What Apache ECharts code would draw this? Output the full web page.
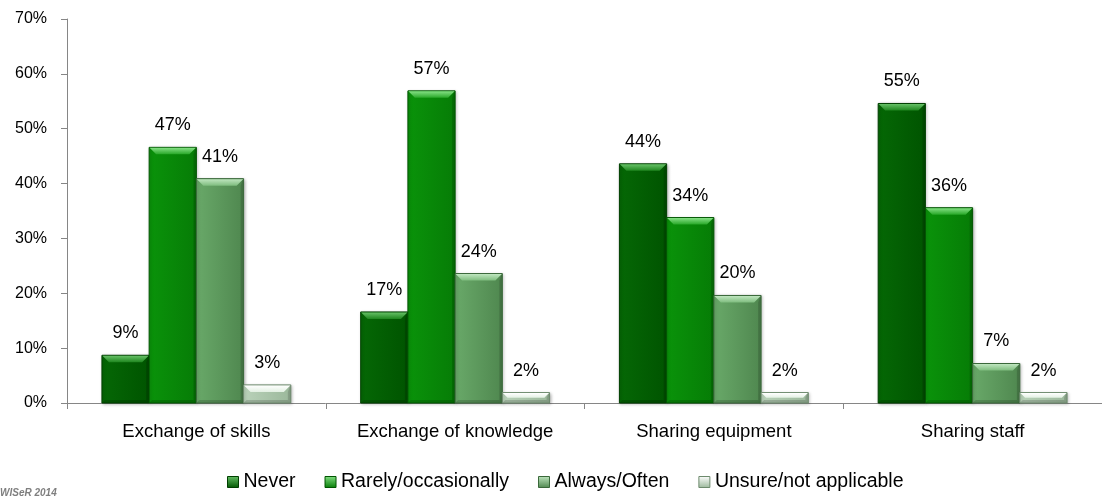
<!DOCTYPE html>
<html>
<head>
<meta charset="utf-8">
<title>Collaboration between organisations</title>
<script src="https://cdn.jsdelivr.net/npm/echarts@6/dist/echarts.min.js"></script>
<style>
  html, body { margin: 0; padding: 0; background: #ffffff; }
  #chart { width: 1102px; height: 498px; }
</style>
</head>
<body>
<div id="chart"></div>
<script>
// Categories and response shares (percent)
const categories = ['Exchange of skills', 'Exchange of knowledge', 'Sharing equipment', 'Sharing staff'];
const seriesNames = ['Never', 'Rarely/occasionally', 'Always/Often', 'Unsure/not applicable'];
const never = [8.7, 16.6, 43.6, 54.6];
const rarely = [46.6, 56.9, 33.8, 35.6];
const always = [40.9, 23.6, 19.6, 7.2];
const unsure = [3.3, 1.9, 1.9, 1.9];
const yTicks = { min: 0, max: 70, interval: 10 };

// Bevelled bar palette: body left/right, top bevel, outline
const palette = [
  { left: '#056805', right: '#005400', bevelTop: '#66c066', bevelIn: '#1f861f', edge: '#003f00' },
  { left: '#0a930a', right: '#067c06', bevelTop: '#84e084', bevelIn: '#27a727', edge: '#005400' },
  { left: '#69a969', right: '#4f874f', bevelTop: '#bfe6bf', bevelIn: '#7fbd7f', edge: '#3a683a' },
  { left: '#b9d2b9', right: '#9bb89b', bevelTop: '#ffffff', bevelIn: '#e2f0e2', edge: '#6d8a6d' }
];
const allValues = [never, rarely, always, unsure];
const CATEGORY_GAP = 0.27;
const FONT = 'Liberation Sans, Arial, sans-serif';

function hGrad(a, b) {
  return new echarts.graphic.LinearGradient(0, 0, 1, 0, [
    { offset: 0, color: a }, { offset: 1, color: b }
  ]);
}
function vGrad(a, b) {
  return new echarts.graphic.LinearGradient(0, 0, 0, 1, [
    { offset: 0, color: a }, { offset: 1, color: b }
  ]);
}

// Draws one bevelled bar plus its value label, grouped side by side per category
function makeRenderer(si) {
  const pal = palette[si];
  return function (params, api) {
    const ci = api.value(0);
    const v = api.value(1);
    const topPt = api.coord([ci, v]);
    const basePt = api.coord([ci, 0]);
    const band = api.size([1, 0])[0];
    const n = seriesNames.length;
    const bw = band * (1 - CATEGORY_GAP) / n;
    const x = topPt[0] - bw * n / 2 + si * bw;
    const y = topPt[1];
    const h = basePt[1] - topPt[1];
    const b = Math.min(7, h / 2, bw / 2);
    const s = Math.min(3, h / 2);
    return {
      type: 'group',
      children: [
        {
          type: 'rect',
          shape: { x: x, y: y, width: bw, height: h },
          style: {
            fill: hGrad(pal.left, pal.right), stroke: pal.edge, lineWidth: 1,
            shadowBlur: 3, shadowOffsetX: 1, shadowOffsetY: 1, shadowColor: 'rgba(0,0,0,0.25)'
          }
        },
        {
          type: 'polygon',
          shape: { points: [[x + 0.5, y + 0.5], [x + bw - 0.5, y + 0.5], [x + bw - b, y + b], [x + b, y + b]] },
          style: { fill: vGrad(pal.bevelTop, pal.bevelIn) }
        },
        {
          type: 'polygon',
          shape: { points: [[x + bw - 0.5, y + 0.5], [x + bw - 0.5, y + h - 0.5], [x + bw - s, y + h - s], [x + bw - s, y + b]] },
          style: { fill: 'rgba(0,0,0,0.14)' }
        },
        {
          type: 'polygon',
          shape: { points: [[x + 0.5, y + h - 0.5], [x + bw - 0.5, y + h - 0.5], [x + bw - s, y + h - s], [x + s, y + h - s]] },
          style: { fill: 'rgba(0,0,0,0.16)' }
        },
        {
          type: 'text',
          style: {
            text: Math.round(v) + '%',
            x: x + bw / 2,
            y: y - 22,
            align: 'center',
            verticalAlign: 'middle',
            font: '18px ' + FONT,
            fill: '#000000'
          }
        }
      ]
    };
  };
}

const chart = echarts.init(document.getElementById('chart'));

chart.setOption({
  animation: false,
  backgroundColor: '#ffffff',
  grid: { left: 67, right: -11, top: 19, bottom: 95, containLabel: false },
  legend: {
    left: 227,
    top: 472,
    padding: 0,
    itemWidth: 11,
    itemHeight: 11,
    itemGap: 29,
    icon: 'rect',
    textStyle: { fontFamily: FONT, fontSize: 19.5, color: '#000000' },
    data: seriesNames.map((name, i) => ({
      name: name,
      itemStyle: { color: vGrad(palette[i].bevelTop, palette[i].right), borderColor: palette[i].edge, borderWidth: 1 }
    }))
  },
  xAxis: {
    type: 'category',
    data: categories,
    axisLine: { lineStyle: { color: '#868686', width: 1 } },
    axisTick: { show: true, length: 6, lineStyle: { color: '#868686' } },
    axisLabel: { fontFamily: FONT, fontSize: 18.5, color: '#000000', margin: 19 },
    splitLine: { show: false }
  },
  yAxis: {
    type: 'value',
    min: yTicks.min,
    max: yTicks.max,
    interval: yTicks.interval,
    axisLine: { show: true, lineStyle: { color: '#868686', width: 1 } },
    axisTick: { show: true, length: 6, lineStyle: { color: '#868686' } },
    axisLabel: { fontFamily: FONT, fontSize: 16, color: '#000000', margin: 20, formatter: '{value}%' },
    splitLine: { show: false }
  },
  series: seriesNames.map((name, si) => ({
    name: name,
    type: 'custom',
    renderItem: makeRenderer(si),
    encode: { x: 0, y: 1 },
    itemStyle: { color: palette[si].left },
    data: allValues[si].map((v, ci) => [ci, v]),
    clip: false
  })),
  graphic: [
    {
      type: 'text',
      left: 0,
      top: 488,
      style: { text: 'WISeR 2014', font: 'italic bold 10px ' + FONT, fill: '#7f7f7f' }
    }
  ]
});
</script>
</body>
</html>
